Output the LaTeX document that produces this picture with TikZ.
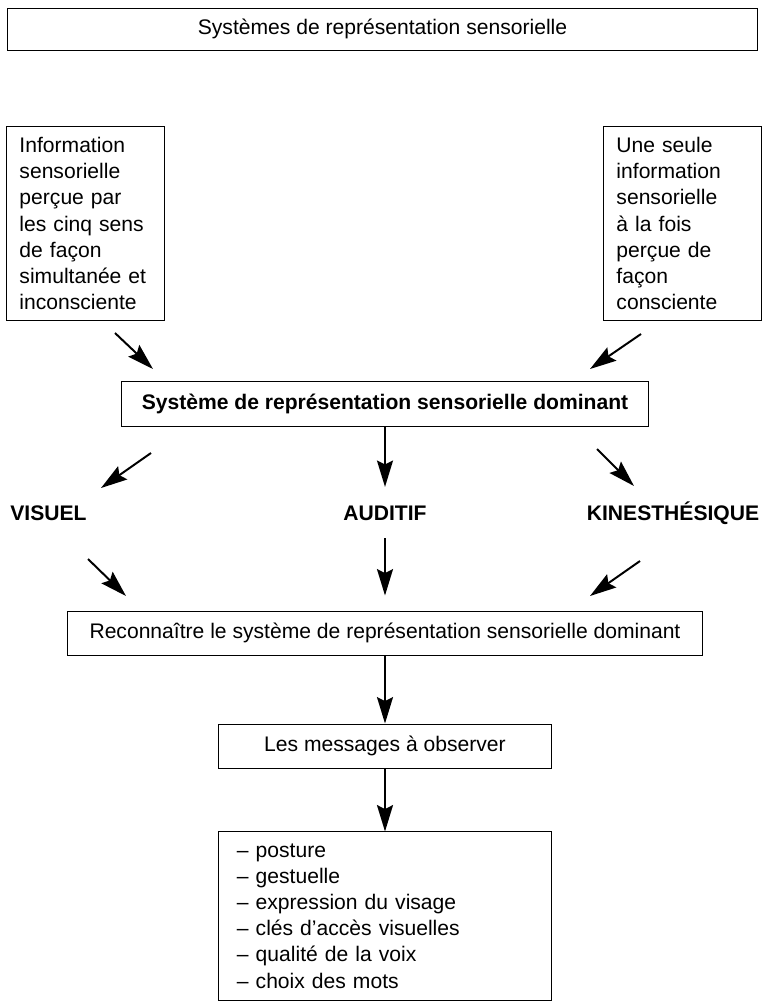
\documentclass[tikz,border=0pt]{standalone}
\usepackage{fontspec}
\setmainfont{Liberation Sans}
\usetikzlibrary{arrows.meta}

\begin{document}
\begin{tikzpicture}[
    x=0.025cm, y=-0.025cm,
    box/.style={rectangle, draw, line width=0.7pt, inner sep=0pt,
                font=\fontsize{15}{18.6}\selectfont},
    sidebox/.style={box, text width=3.3cm, align=left, inner xsep=0.32cm,
                minimum height=4.825cm},
    sensname/.style={font=\fontsize{15}{18.6}\selectfont\bfseries, anchor=base},
    arr/.style={-{Stealth[length=0.66cm, width=0.4cm, inset=0.1cm]}, line width=1.4pt}
  ]
  \useasboundingbox (0,0) rectangle (762,1008);

  \node[box, minimum width=18.725cm, minimum height=1.05cm] (title) at (382.5,29) {Systèmes de représentation sensorielle};
  \node[sidebox] (incons) at (85.5,223.5) {Information\\ sensorielle\\ perçue par\\ les cinq sens\\ de façon\\ simultanée et\\ inconsciente};
  \node[sidebox] (consc)  at (682.5,223.5) {Une seule\\ information\\ sensorielle\\ à la fois\\ perçue de\\ façon\\ consciente};
  \node[box, font=\fontsize{15}{18.6}\selectfont\bfseries, minimum width=13.175cm, minimum height=1.125cm] (dominant) at (385,403.5) {Système de représentation sensorielle dominant};

  \node[sensname] (visuel)  at (48.5,520) {VISUEL};
  \node[sensname] (auditif) at (385,520)  {AUDITIF};
  \node[sensname] (kines)   at (673,520)  {KINESTHÉSIQUE};

  \node[box, minimum width=15.85cm, minimum height=1.1cm] (reconn)   at (385,633) {Reconnaître le système de représentation sensorielle dominant};
  \node[box, minimum width=8.3cm, minimum height=1.1cm]   (messages) at (385,746) {Les messages à observer};
  \node[box, text width=7.4cm, align=left, inner xsep=0.45cm, minimum height=4.2cm] (indices) at (385,916)
    {– posture\\ – gestuelle\\ – expression du visage\\ – clés d’accès visuelles\\ – qualité de la voix\\ – choix des mots};

  % free arrow ends
  \coordinate (inconsA) at (115,333); \coordinate (inconsB) at (153,369);
  \coordinate (conscA)  at (641,334); \coordinate (conscB)  at (590,369);
  \coordinate (visA)    at (151,453); \coordinate (visB)    at (101,488);
  \coordinate (kinA)    at (597,449); \coordinate (kinB)    at (634,486);
  \coordinate (visC)    at (88,559);  \coordinate (visD)    at (126,596);
  \coordinate (kinC)    at (640,561); \coordinate (kinD)    at (590,596);

  \draw[arr] (inconsA) -- (inconsB);
  \draw[arr] (conscA) -- (conscB);
  \draw[arr] (visA) -- (visB);
  \draw[arr, shorten >=0.34cm] (dominant) -- (auditif);
  \draw[arr] (kinA) -- (kinB);
  \draw[arr] (visC) -- (visD);
  \draw[arr, shorten <=0.33cm, shorten >=0.375cm] (auditif) -- (reconn);
  \draw[arr] (kinC) -- (kinD);
  \draw[arr] (reconn) -- (messages);
  \draw[arr] (messages) -- (indices);
\end{tikzpicture}
\end{document}
